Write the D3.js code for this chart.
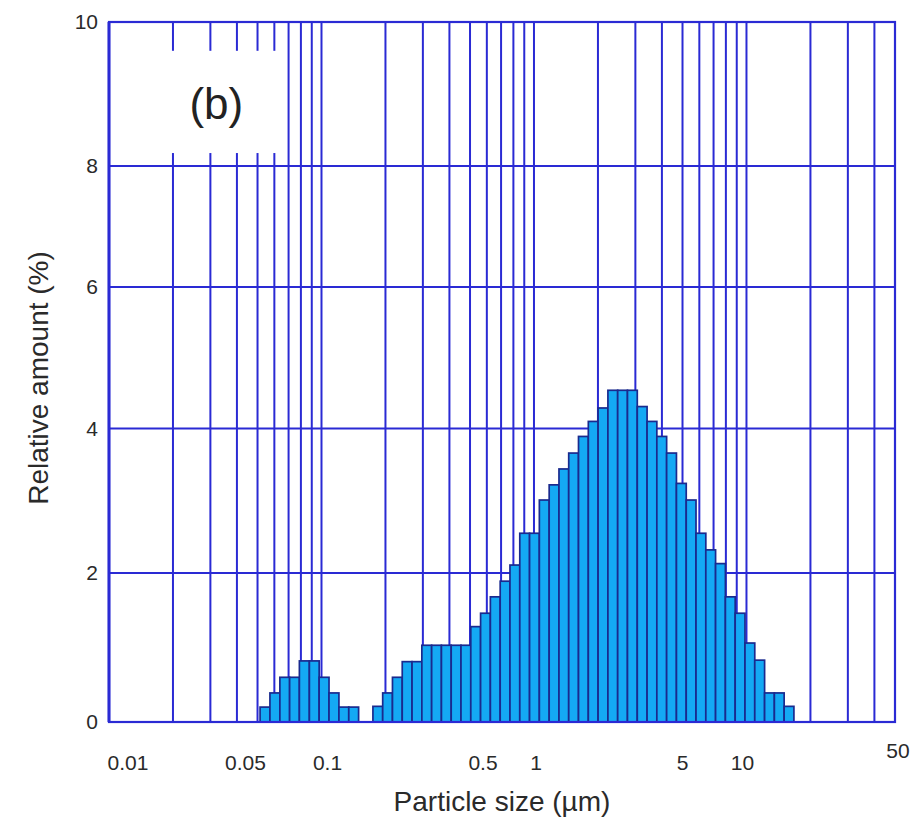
<!DOCTYPE html>
<html><head><meta charset="utf-8">
<script src="https://cdn.jsdelivr.net/npm/d3@7"></script>
<style>body{margin:0;background:#fff}</style>
</head><body>
<svg id="c" width="913" height="826"></svg>
<script>
// ---- data ----
const xTickValues = [0.01, 0.05, 0.1, 0.5, 1, 5, 10, 50];
const xTickLabels = ["0.01", "0.05", "0.1", "0.5", "1", "5", "10", "50"];
const yTickValues = [0, 2, 4, 6, 8, 10];
const yTickLabels = ["0", "2", "4", "6", "8", "10"];
const gridXValues = [0.02,0.03,0.04,0.05,0.06,0.07,0.08,0.09,0.1,
                     0.2,0.3,0.4,0.5,0.6,0.7,0.8,0.9,1,
                     2,3,4,5,6,7,8,9,10,20,30,40];
const gridYValues = [2, 4, 6, 8];

// fine-particle mode: bin edges (µm) and relative amount (%)
const binEdgesFine = [0.0514,0.0572,0.0637,0.0708,0.0787,0.0877,0.0975,0.1085,0.1208,0.1344,0.1495];
const amountFine   = [0.20,0.39,0.60,0.60,0.82,0.82,0.60,0.39,0.20,0.20];

// main mode: bin edges (µm) and relative amount (%)
const binEdgesMain = [0.1746,0.1941,0.2158,0.2399,0.2668,0.2967,0.3299,0.3668,0.4078,0.4534,
                      0.5042,0.5607,0.6234,0.6934,0.7709,0.8574,0.9533,1.060,1.179,1.311,
                      1.457,1.620,1.802,2.003,2.228,2.477,2.754,3.063,3.406,3.786,
                      4.210,4.682,5.206,5.788,6.437,7.155,7.958,8.849,9.840,10.94,
                      12.17,13.53,15.04,16.72];
const amountMain   = [0.21,0.39,0.60,0.81,0.81,1.03,1.03,1.03,1.03,1.03,
                      1.28,1.46,1.68,1.89,2.11,2.55,2.55,3.01,3.22,3.44,
                      3.66,3.89,4.10,4.29,4.54,4.54,4.54,4.31,4.10,3.89,
                      3.66,3.24,3.01,2.55,2.32,2.13,1.68,1.46,1.06,0.83,
                      0.39,0.39,0.21];

const panelLabel = "(b)";
const xTitle = "Particle size (µm)";
const yTitle = "Relative amount (%)";

// ---- drawing ----
const svg = d3.select("#c");
const GRID = "#2a2ad4", BAR = "#14a9f4", BAR_EDGE = "#1a2a8e", TXT = "#2a2a2a";
const FONT = "'Liberation Sans', Arial, Helvetica, sans-serif";

const x = d3.scaleLog().domain([0.01, 50]).range([109, 895]);
const y = d3.scaleLinear().domain(yTickValues).range([722, 573, 428.5, 287, 166, 22]);

// grid
svg.append("g").selectAll("line").data(gridXValues).join("line")
  .attr("x1", d => x(d)).attr("x2", d => x(d))
  .attr("y1", y(10)).attr("y2", y(0))
  .attr("stroke", GRID).attr("stroke-width", 2);
svg.append("g").selectAll("line").data(gridYValues).join("line")
  .attr("x1", x(0.01)).attr("x2", x(50))
  .attr("y1", d => y(d)).attr("y2", d => y(d))
  .attr("stroke", GRID).attr("stroke-width", 2);

// white label box
svg.append("rect")
  .attr("x", x(0.01) + 2).attr("y", y(9.6))
  .attr("width", x(0.0655) - x(0.01) - 2).attr("height", y(8.18) - y(9.6))
  .attr("fill", "#fff");
svg.append("text").text(panelLabel)
  .attr("x", x(0.032)).attr("y", 119)
  .attr("text-anchor", "middle").attr("font-family", FONT)
  .attr("font-size", 44).attr("fill", "#222");

// bars
function bins(edges, vals) {
  return vals.map((v, i) => ({x0: edges[i], x1: edges[i + 1], v}));
}
const allBins = bins(binEdgesFine, amountFine).concat(bins(binEdgesMain, amountMain));
svg.append("g").selectAll("rect").data(allBins).join("rect")
  .attr("x", d => x(d.x0)).attr("width", d => x(d.x1) - x(d.x0))
  .attr("y", d => y(d.v)).attr("height", d => y(0) - y(d.v))
  .attr("fill", BAR).attr("stroke", BAR_EDGE).attr("stroke-width", 1.7);

// frame
svg.append("rect")
  .attr("x", x(0.01)).attr("y", y(10))
  .attr("width", x(50) - x(0.01)).attr("height", y(0) - y(10))
  .attr("fill", "none").attr("stroke", GRID).attr("stroke-width", 2.2);
svg.append("line").attr("x1", x(0.01)).attr("x2", x(0.01))
  .attr("y1", y(10)).attr("y2", y(0)).attr("stroke", GRID).attr("stroke-width", 3);

// x tick labels
const xNudge = {"0.01": 19, "0.05": -12, "0.1": 6, "0.5": 13, "1": 2, "5": 0, "10": -4, "50": 3};
const xRaise = {"50": -12};
svg.append("g").selectAll("text").data(xTickValues).join("text")
  .text((d, i) => xTickLabels[i])
  .attr("x", (d, i) => x(d) + (xNudge[xTickLabels[i]] || 0))
  .attr("y", (d, i) => 770 + (xRaise[xTickLabels[i]] || 0))
  .attr("text-anchor", "middle").attr("font-family", FONT)
  .attr("font-size", 21).attr("fill", TXT);

// y tick labels
svg.append("g").selectAll("text").data(yTickValues).join("text")
  .text((d, i) => yTickLabels[i])
  .attr("x", 98).attr("y", d => y(d) + 7)
  .attr("text-anchor", "end").attr("font-family", FONT)
  .attr("font-size", 21).attr("fill", TXT);

// titles
svg.append("text").text(xTitle)
  .attr("x", 502).attr("y", 811)
  .attr("text-anchor", "middle").attr("font-family", FONT)
  .attr("font-size", 28).attr("fill", TXT);
svg.append("text").text(yTitle)
  .attr("transform", "translate(48,378) rotate(-90)")
  .attr("text-anchor", "middle").attr("font-family", FONT)
  .attr("font-size", 28).attr("fill", TXT);
</script>
</body></html>
